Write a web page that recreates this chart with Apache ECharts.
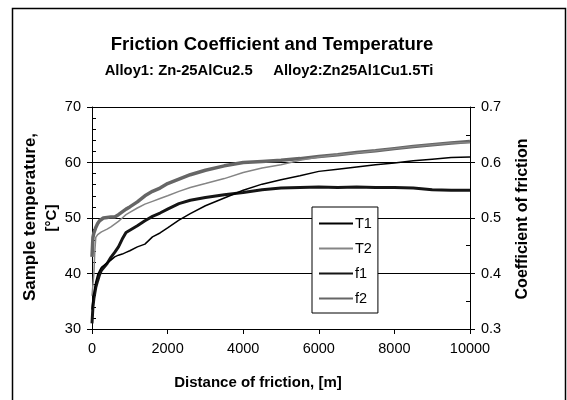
<!DOCTYPE html>
<html>
<head>
<meta charset="utf-8">
<script src="https://cdn.jsdelivr.net/npm/echarts@6/dist/echarts.min.js"></script>
<style>
html,body{margin:0;padding:0;background:#fff;}
#chart{width:567px;height:400px;}
</style>
</head>
<body>
<div id="chart"></div>
<script>
// ---- data ----
var distance = [0, 25, 50, 75, 100, 150, 200, 250, 300, 400, 500, 600, 700, 800, 900, 1000, 1200, 1400, 1600, 1800, 2000, 2300, 2600, 3000, 3500, 4000, 4500, 5000, 5500, 6000, 6500, 7000, 7500, 8000, 8500, 9000, 9500, 10000];
var T1 = [33.5, 35.5, 36.5, 37.5, 38.5, 39.8, 40.5, 41.1, 41.4, 41.9, 42.4, 43.0, 43.3, 43.5, 43.8, 44.1, 44.8, 45.3, 46.6, 47.3, 48.2, 49.6, 50.8, 52.2, 53.6, 55.0, 56.1, 56.9, 57.6, 58.4, 58.8, 59.2, 59.6, 59.9, 60.3, 60.6, 60.9, 61.0];
var T2 = [36.0, 38.0, 40.0, 44.0, 46.5, 47.0, 47.2, 47.5, 47.7, 48.0, 48.4, 48.9, 49.4, 50.0, 50.6, 51.0, 51.8, 52.5, 53.0, 53.5, 54.0, 54.8, 55.5, 56.2, 57.1, 58.2, 59.0, 59.6, 60.4, 61.0, 61.4, 61.7, 62.1, 62.5, 62.9, 63.2, 63.5, 63.6];
var f1 = [0.310, 0.340, 0.355, 0.365, 0.375, 0.387, 0.398, 0.406, 0.410, 0.418, 0.429, 0.438, 0.448, 0.462, 0.474, 0.478, 0.486, 0.495, 0.503, 0.509, 0.516, 0.526, 0.532, 0.537, 0.542, 0.546, 0.551, 0.554, 0.555, 0.556, 0.555, 0.556, 0.555, 0.555, 0.554, 0.551, 0.550, 0.550];
var f2 = [0.430, 0.465, 0.473, 0.478, 0.483, 0.490, 0.495, 0.498, 0.500, 0.501, 0.502, 0.502, 0.506, 0.511, 0.516, 0.520, 0.529, 0.540, 0.548, 0.554, 0.562, 0.570, 0.578, 0.586, 0.594, 0.600, 0.602, 0.604, 0.607, 0.611, 0.614, 0.618, 0.621, 0.625, 0.629, 0.632, 0.635, 0.638];
var seriesNames = ['T1', 'T2', 'f1', 'f2'];
var tempTicks = [30, 70, 10];
var fricTicks = [0.3, 0.7, 0.1];
var distTicks = [0, 10000, 2000];
var titleText = 'Friction Coefficient and Temperature';
var subtitleText = 'Alloy1: Zn-25AlCu2.5     Alloy2:Zn25Al1Cu1.5Ti';
var xName = 'Distance of friction, [m]';
var yLeftName1 = 'Sample temperature,';
var yLeftName2 = '[°C]';
var yRightName = 'Coefficient of friction';

function pairs(xs, ys) { return xs.map(function (x, i) { return [x, ys[i]]; }); }

var FONT = '"Liberation Sans", Arial, sans-serif';
var chart = echarts.init(document.getElementById('chart'), null, {renderer: 'canvas'});

function baseY(min, max, interval, pos, fmt) {
  return {
    type: 'value', position: pos, min: min, max: max, interval: interval,
    axisLine: {show: true, lineStyle: {color: '#000', width: 1}},
    axisTick: {show: true, inside: false, length: 5, lineStyle: {color: '#000'}},
    axisLabel: {show: true, color: '#000', fontSize: 14.5, fontFamily: FONT, margin: 11, formatter: fmt},
    splitLine: {show: false}
  };
}
function innerY(min, max, interval, pos, minorSplit) {
  return {
    type: 'value', position: pos, min: min, max: max, interval: interval,
    axisLine: {show: false},
    axisTick: {show: true, inside: true, length: 5, lineStyle: {color: '#000'}},
    minorTick: {show: true, splitNumber: minorSplit, length: 4, lineStyle: {color: '#000'}},
    axisLabel: {show: false},
    splitLine: {show: false}
  };
}

var yL = baseY(tempTicks[0], tempTicks[1], tempTicks[2], 'left', function (v) { return String(v); });
yL.splitLine = {show: true, lineStyle: {color: '#000', width: 1}};
var yR = baseY(fricTicks[0], fricTicks[1], fricTicks[2], 'right', function (v) { return v.toFixed(1); });

var option = {
  animation: false,
  backgroundColor: '#fff',
  title: [
    {text: titleText, left: 267, top: 30, textAlign: 'center',
     textStyle: {fontFamily: FONT, fontSize: 18.5, fontWeight: 'bold', color: '#000'}},
    {text: subtitleText, left: 264, top: 58, textAlign: 'center',
     textStyle: {fontFamily: FONT, fontSize: 14.8, fontWeight: 'bold', color: '#000'}}
  ],
  grid: {left: 92, right: 97, top: 107, bottom: 71, containLabel: false},
  xAxis: {
    type: 'value', min: distTicks[0], max: distTicks[1], interval: distTicks[2],
    axisLine: {show: true, onZero: false, lineStyle: {color: '#000', width: 1}},
    axisTick: {show: true, inside: false, length: 5, lineStyle: {color: '#000'}},
    axisLabel: {color: '#000', fontSize: 14.5, fontFamily: FONT, margin: 12, formatter: function (v) { return String(v); }},
    splitLine: {show: false}
  },
  yAxis: [yL, yR,
    innerY(tempTicks[0], tempTicks[1], tempTicks[2], 'left', 5),
    innerY(fricTicks[0], fricTicks[1], fricTicks[2], 'right', 2)
  ],
  legend: {
    orient: 'vertical', left: 312, top: 207,
    padding: [9, 6, 7, 6], itemGap: 10, itemWidth: 34, itemHeight: 14,
    backgroundColor: '#fff', borderColor: '#000', borderWidth: 1, borderRadius: 0,
    itemStyle: {opacity: 0},
    textStyle: {fontFamily: FONT, fontSize: 14.5, color: '#000', padding: [0, 0, 0, -3]},
    data: seriesNames
  },
  graphic: [
    {type: 'rect', shape: {x: 12.5, y: 8.5, width: 553, height: 400}, style: {fill: null, stroke: '#000', lineWidth: 1.5}, z: 100, silent: true},
    {type: 'text', x: 30, y: 217, rotation: Math.PI / 2, style: {text: yLeftName1, font: 'bold 17px ' + FONT, fill: '#000', textAlign: 'center', textVerticalAlign: 'middle'}},
    {type: 'text', x: 52, y: 218, rotation: Math.PI / 2, style: {text: yLeftName2, font: 'bold 15px ' + FONT, fill: '#000', textAlign: 'center', textVerticalAlign: 'middle'}},
    {type: 'text', x: 523, y: 219, rotation: Math.PI / 2, style: {text: yRightName, font: 'bold 16px ' + FONT, fill: '#000', textAlign: 'center', textVerticalAlign: 'middle'}},
    {type: 'text', x: 258, y: 383, style: {text: xName, font: 'bold 15px ' + FONT, fill: '#000', textAlign: 'center', textVerticalAlign: 'middle'}}
  ],
  series: [
    {name: 'T1', type: 'line', yAxisIndex: 0, data: pairs(distance, T1), symbol: 'none', lineStyle: {color: '#000', width: 1.5}, itemStyle: {color: '#000'}, z: 4},
    {name: 'T2', type: 'line', yAxisIndex: 0, data: pairs(distance, T2), symbol: 'none', lineStyle: {color: '#858585', width: 1.5}, itemStyle: {color: '#858585'}, z: 3},
    {name: 'f1', type: 'line', yAxisIndex: 1, data: pairs(distance, f1), symbol: 'none', lineStyle: {color: '#151515', width: 3}, itemStyle: {color: '#151515'}, z: 2},
    {name: 'f2', type: 'line', yAxisIndex: 1, data: pairs(distance, f2), symbol: 'none', lineStyle: {color: '#666', width: 3.5}, itemStyle: {color: '#666'}, z: 2}
  ]
};
chart.setOption(option);
</script>
</body>
</html>
